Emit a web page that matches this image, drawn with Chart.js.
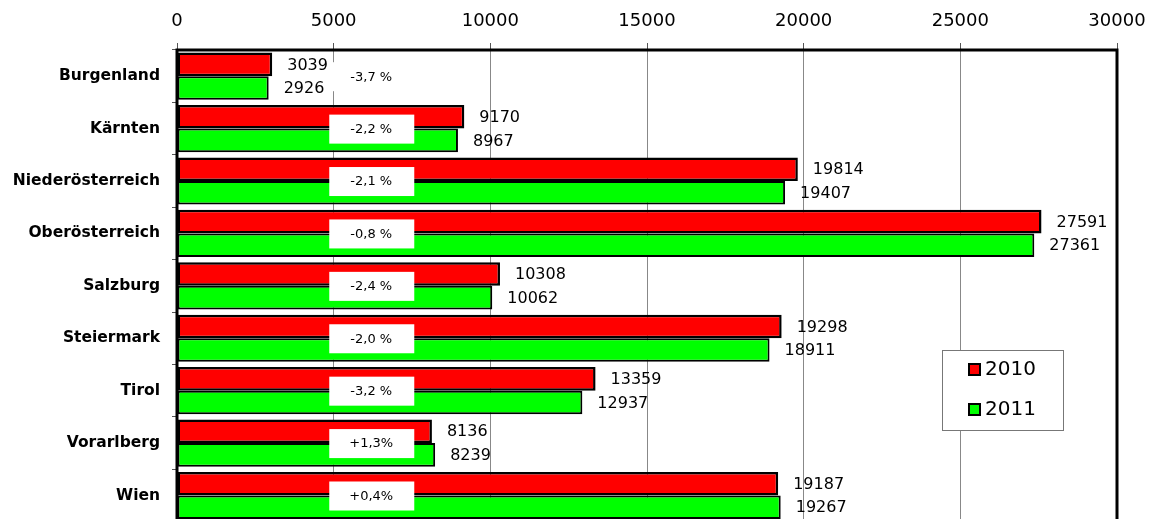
<!DOCTYPE html>
<html>
<head>
<meta charset="utf-8">
<script src="https://cdn.jsdelivr.net/npm/chart.js@4/dist/chart.umd.min.js"></script>
<style>
  html, body { margin: 0; padding: 0; background: #fff; overflow: hidden; }
  #wrap { width: 1149px; height: 543px; }
</style>
</head>
<body>
<div id="wrap"><canvas id="chart" width="1149" height="543"></canvas></div>
<script>
// data
const regions = ["Burgenland", "Kärnten", "Niederösterreich", "Oberösterreich", "Salzburg", "Steiermark", "Tirol", "Vorarlberg", "Wien"];
const values2010 = [3039, 9170, 19814, 27591, 10308, 19298, 13359, 8136, 19187];
const values2011 = [2926, 8967, 19407, 27361, 10062, 18911, 12937, 8239, 19267];
const changes = ["-3,7 %", "-2,2 %", "-2,1 %", "-0,8 %", "-2,4 %", "-2,0 %", "-3,2 %", "+1,3%", "+0,4%"];
const seriesNames = ["2010", "2011"];
const seriesColors = ["#ff0000", "#00ff00"];

const FONT = "'DejaVu Sans', Verdana, sans-serif";

// value labels, change boxes, frame and legend
const extras = {
  id: "extras",
  afterDatasetsDraw(chart) {
    const ctx = chart.ctx;
    const xs = chart.scales.x;
    const area = chart.chartArea;
    ctx.save();

    // value labels next to bars
    ctx.font = "16px " + FONT;
    ctx.fillStyle = "#000";
    ctx.textAlign = "left";
    ctx.textBaseline = "middle";
    chart.data.datasets.forEach((ds, i) => {
      chart.getDatasetMeta(i).data.forEach((bar, j) => {
        ctx.fillText(String(ds.data[j]), bar.x + 15, bar.y + 1);
      });
    });

    // change boxes
    const ys = chart.scales.y;
    const cx = xs.getPixelForValue(6200);
    ctx.font = "13px " + FONT;
    ctx.textAlign = "center";
    changes.forEach((t, j) => {
      const cy = ys.getPixelForValue(j);
      ctx.fillStyle = "#fff";
      ctx.fillRect(cx - 42, cy - 14, 85, 29);
      ctx.fillStyle = "#000";
      ctx.fillText(t, cx, cy + 1);
    });

    // frame
    ctx.strokeStyle = "#000";
    ctx.lineWidth = 3;
    ctx.beginPath();
    ctx.moveTo(area.left, area.bottom);
    ctx.lineTo(area.left, area.top);
    ctx.lineTo(area.right, area.top);
    ctx.lineTo(area.right, area.bottom);
    ctx.stroke();

    // legend
    ctx.fillStyle = "#fff";
    ctx.fillRect(942, 350, 121, 80);
    ctx.strokeStyle = "#777";
    ctx.lineWidth = 1;
    ctx.strokeRect(942.5, 350.5, 121, 80);
    ctx.font = "20px " + FONT;
    ctx.textAlign = "left";
    seriesNames.forEach((n, i) => {
      const y = 370 + i * 40;
      ctx.fillStyle = seriesColors[i];
      ctx.fillRect(969, y - 6, 11, 11);
      ctx.strokeStyle = "#000";
      ctx.lineWidth = 2;
      ctx.strokeRect(969, y - 6, 11, 11);
      ctx.fillStyle = "#000";
      ctx.fillText(n, 985, y);
    });
    ctx.restore();
  }
};

new Chart(document.getElementById("chart"), {
  type: "bar",
  data: {
    labels: regions,
    datasets: [
      { label: seriesNames[0], data: values2010, backgroundColor: seriesColors[0], borderColor: "#000", borderWidth: 2.5 },
      { label: seriesNames[1], data: values2011, backgroundColor: seriesColors[1], borderColor: "#000", borderWidth: 2 }
    ]
  },
  options: {
    indexAxis: "y",
    responsive: false,
    animation: false,
    layout: { padding: { left: 0, right: 32, top: 0, bottom: 7 } },
    datasets: { bar: { categoryPercentage: 0.9, barPercentage: 1.0, borderSkipped: false } },
    plugins: { legend: { display: false }, tooltip: { enabled: false } },
    scales: {
      x: {
        position: "top",
        min: 0,
        max: 30000,
        afterFit(s) { s.height = 50; s.paddingLeft = 0; s.paddingRight = 0; },
        ticks: {
          stepSize: 5000, color: "#000", font: { family: FONT, size: 18 }, padding: 11,
          callback: v => String(v)
        },
        grid: { color: "#888", lineWidth: 1, tickLength: 7, tickColor: "#555" },
        border: { display: false }
      },
      y: {
        afterFit(s) { s.width = 177; },
        ticks: { color: "#000", font: { family: FONT, size: 15.5, weight: "bold" }, padding: 12 },
        grid: { offset: true, drawOnChartArea: false, tickLength: 5, tickColor: "#555" },
        border: { display: false }
      }
    }
  },
  plugins: [extras]
});
</script>
</body>
</html>
